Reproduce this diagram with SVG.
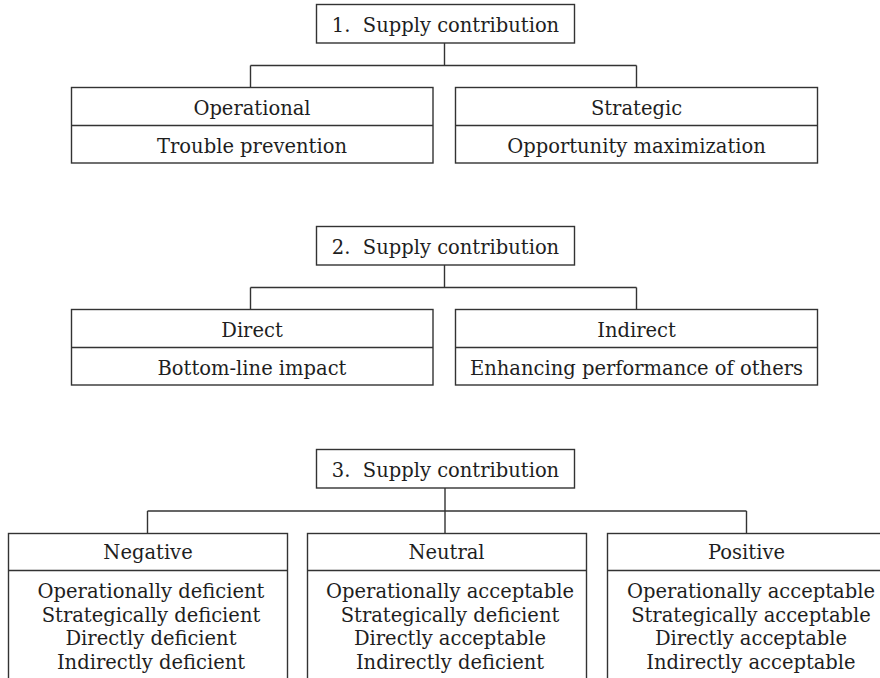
<svg xmlns="http://www.w3.org/2000/svg" width="880" height="678" viewBox="0 0 880 678">
<style>
.box{fill:#fff;stroke:#333;stroke-width:1.4}
.ln{fill:none;stroke:#333;stroke-width:1.4}
text{font-family:"DejaVu Serif","Liberation Serif",serif;font-size:19.5px;fill:#1e1e1e;text-anchor:middle}
</style>
<rect width="880" height="678" fill="#fff"/>
<g id="connectors">
<path class="ln" d="M444.5 43V65.5M250.5 65.5H636.5M250.5 65.5V87M636.5 65.5V87"/>
<path class="ln" d="M444.5 265V287.5M250.5 287.5H636.5M250.5 287.5V309M636.5 287.5V309"/>
<path class="ln" d="M445 488V511M147.5 511H746.5M147.5 511V533M445 511V533M746.5 511V533"/>
</g>
<g id="n1">
<rect class="box" x="316.5" y="4.5" width="258" height="38.5"/>
<text x="445.5" y="32" xml:space="preserve">1.  Supply contribution</text>
</g>
<g id="n1a">
<rect class="box" x="71.5" y="87.5" width="361.5" height="75.5"/>
<line class="ln" x1="71.5" y1="125.5" x2="433" y2="125.5"/>
<text x="252" y="115">Operational</text>
<text x="252" y="153">Trouble prevention</text>
</g>
<g id="n1b">
<rect class="box" x="455.5" y="87.5" width="362" height="75.5"/>
<line class="ln" x1="455.5" y1="125.5" x2="817.5" y2="125.5"/>
<text x="636.5" y="115">Strategic</text>
<text x="636.5" y="153">Opportunity maximization</text>
</g>
<g id="n2">
<rect class="box" x="316.5" y="226.5" width="258" height="38.5"/>
<text x="445.5" y="254" xml:space="preserve">2.  Supply contribution</text>
</g>
<g id="n2a">
<rect class="box" x="71.5" y="309.5" width="361.5" height="75.5"/>
<line class="ln" x1="71.5" y1="347.5" x2="433" y2="347.5"/>
<text x="252" y="337">Direct</text>
<text x="252" y="375">Bottom-line impact</text>
</g>
<g id="n2b">
<rect class="box" x="455.5" y="309.5" width="362" height="75.5"/>
<line class="ln" x1="455.5" y1="347.5" x2="817.5" y2="347.5"/>
<text x="636.5" y="337">Indirect</text>
<text x="636.5" y="375">Enhancing performance of others</text>
</g>
<g id="n3">
<rect class="box" x="316.5" y="449.5" width="258" height="38.5"/>
<text x="445.5" y="477" xml:space="preserve">3.  Supply contribution</text>
</g>
<g id="n3a">
<rect class="box" x="8.5" y="533.5" width="279" height="160"/>
<line class="ln" x1="8.5" y1="570.5" x2="287.5" y2="570.5"/>
<text x="148" y="559">Negative</text>
<text x="151" y="598">Operationally deficient</text>
<text x="151" y="621.5">Strategically deficient</text>
<text x="151" y="645">Directly deficient</text>
<text x="151" y="668.5">Indirectly deficient</text>
</g>
<g id="n3b">
<rect class="box" x="307.5" y="533.5" width="279" height="160"/>
<line class="ln" x1="307.5" y1="570.5" x2="586.5" y2="570.5"/>
<text x="446.5" y="559">Neutral</text>
<text x="450" y="598">Operationally acceptable</text>
<text x="450" y="621.5">Strategically deficient</text>
<text x="450" y="645">Directly acceptable</text>
<text x="450" y="668.5">Indirectly deficient</text>
</g>
<g id="n3c">
<rect class="box" x="607.5" y="533.5" width="279" height="160"/>
<line class="ln" x1="607.5" y1="570.5" x2="886.5" y2="570.5"/>
<text x="746.5" y="559">Positive</text>
<text x="751" y="598">Operationally acceptable</text>
<text x="751" y="621.5">Strategically acceptable</text>
<text x="751" y="645">Directly acceptable</text>
<text x="751" y="668.5">Indirectly acceptable</text>
</g>
</svg>
